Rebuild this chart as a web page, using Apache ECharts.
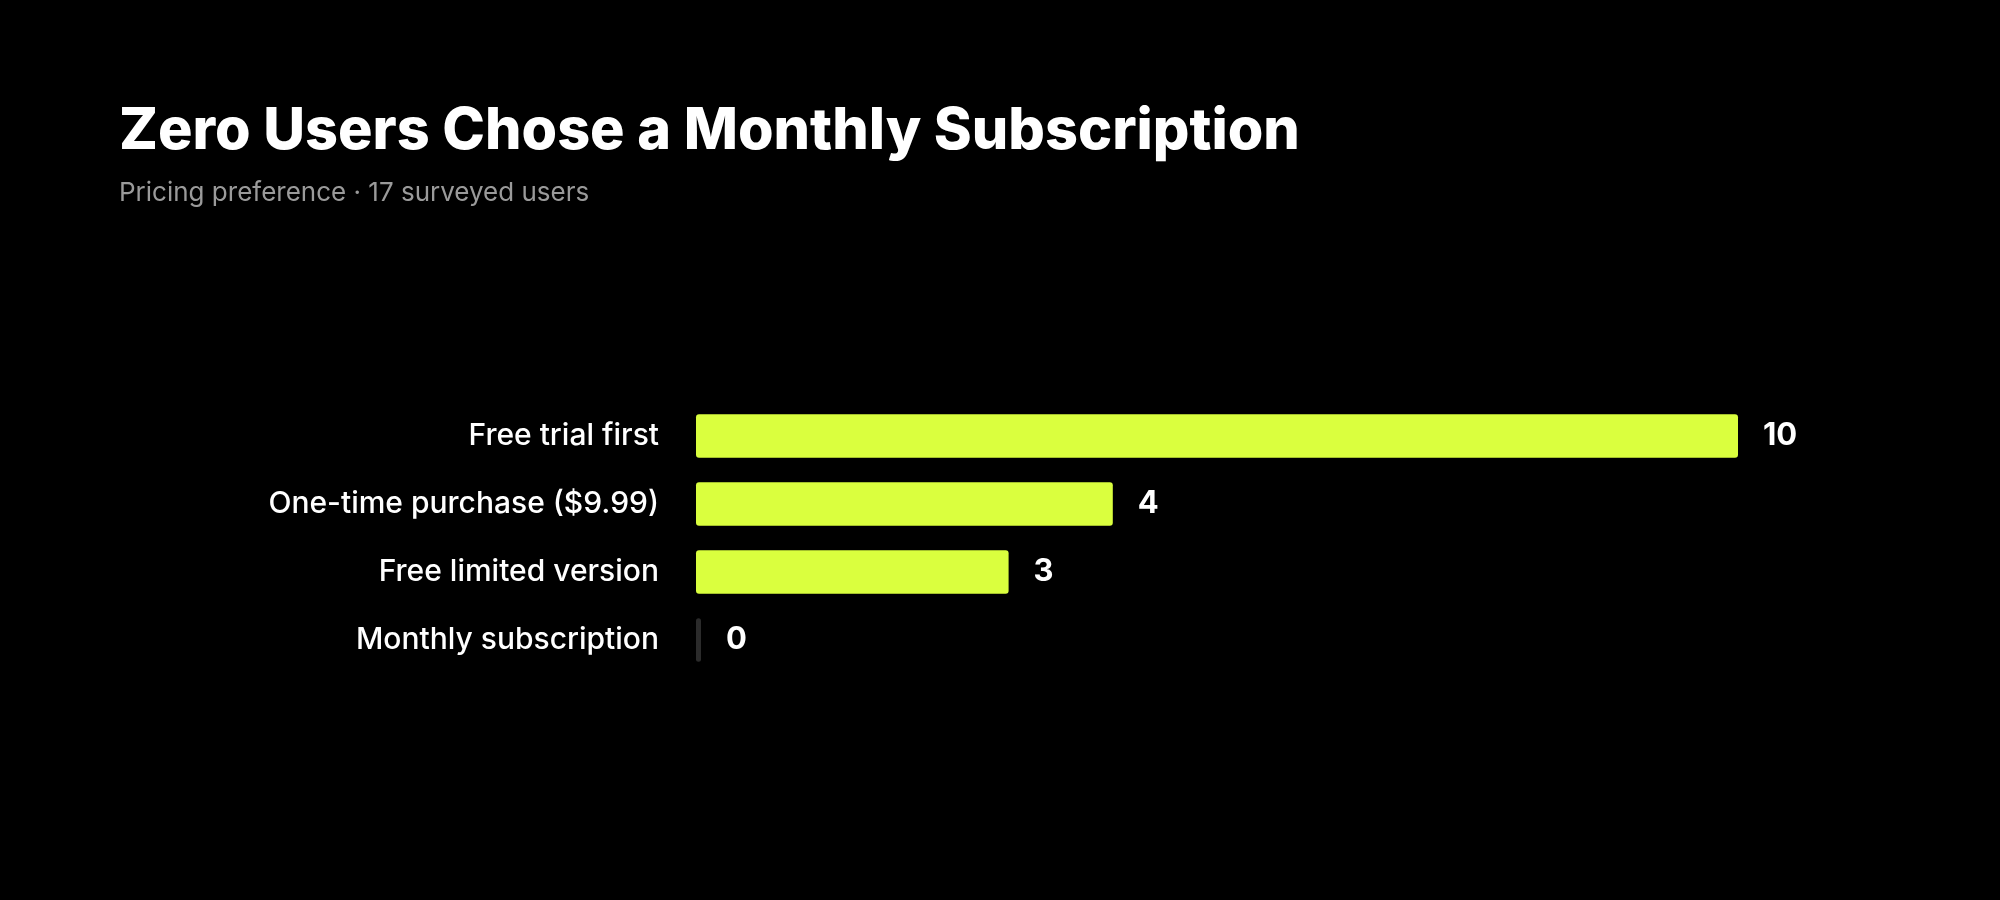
<!DOCTYPE html>
<html>
<head>
<meta charset="utf-8">
<script src="https://cdn.jsdelivr.net/npm/echarts@6/dist/echarts.min.js"></script>
<style>
  html, body { margin: 0; padding: 0; background: #000; }
  #main { width: 2000px; height: 900px; }
</style>
</head>
<body>
<div id="main"></div>
<script>
var categories = ['Free trial first', 'One-time purchase ($9.99)', 'Free limited version', 'Monthly subscription'];
var counts = [10, 4, 3, 0];

var barColor = '#DAFF3E';
var zeroColor = '#2b2b2b';

var myChart = echarts.init(document.getElementById('main'));

var option = {
    backgroundColor: '#000',
    textStyle: { fontFamily: 'Inter' },
    title: {
        text: 'Zero Users Chose a Monthly Subscription',
        subtext: 'Pricing preference · 17 surveyed users',
        left: 114,
        top: 98,
        itemGap: 19,
        textStyle: {
            color: '#fff',
            fontSize: 57.5,
            fontWeight: 800,
            fontFamily: 'Inter'
        },
        subtextStyle: {
            color: '#9a9a9a',
            fontSize: 26,
            fontFamily: 'Inter'
        }
    },
    grid: {
        left: 696,
        top: 402,
        width: 1042,
        height: 272
    },
    xAxis: {
        type: 'value',
        min: 0,
        max: 10,
        show: false
    },
    yAxis: {
        type: 'category',
        data: categories,
        inverse: true,
        axisLine: { show: false },
        axisTick: { show: false },
        axisLabel: {
            color: '#fff',
            fontSize: 30,
            fontWeight: 500,
            fontFamily: 'Inter',
            margin: 37,
            padding: [8, 0, 0, 0]
        }
    },
    series: [{
        type: 'bar',
        barCategoryGap: '36%',
        barMinHeight: 5,
        data: counts.map(function (v) {
            return {
                value: v,
                itemStyle: { color: v === 0 ? zeroColor : barColor }
            };
        }),
        itemStyle: { borderRadius: 3 },
        label: {
            show: true,
            position: 'right',
            distance: 25,
            color: '#fff',
            fontSize: 31,
            fontWeight: 700,
            fontFamily: 'Inter',
            padding: [4, 0, 0, 0]
        },
        silent: true
    }]
};

myChart.setOption(option);
</script>
</body>
</html>
